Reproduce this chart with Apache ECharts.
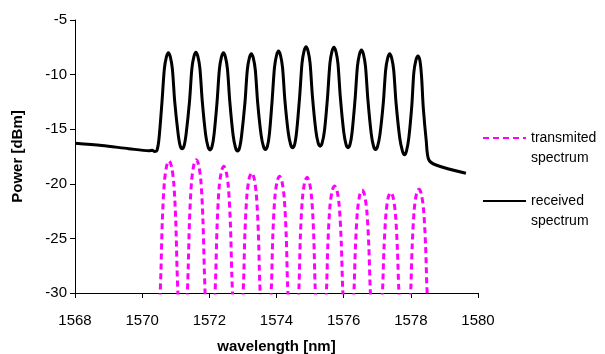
<!DOCTYPE html>
<html>
<head>
<meta charset="utf-8">
<script src="https://cdn.jsdelivr.net/npm/echarts@6/dist/echarts.min.js"></script>
<style>
html,body{margin:0;padding:0;background:#fff;}
#chart{width:605px;height:354px;}
</style>
</head>
<body>
<div id="chart"></div>
<script>
// ---- data ----
const xAxisTitle = 'wavelength [nm]';
const yAxisTitle = 'Power [dBm]';
const seriesNames = ['transmited\nspectrum', 'received\nspectrum'];

// received spectrum (black solid)
const receivedWl = [1568.00,1568.80,1569.60,1570.20,1570.30,1570.37,1570.44,1570.50,1570.59,1570.66,1570.72,1570.78,
  1570.84,1570.90,1570.97,1571.07,1571.13,1571.19,1571.25,1571.31,
  1571.41,1571.48,1571.54,1571.60,1571.66,1571.72,1571.79,1571.89,1571.96,1572.02,1572.08,1572.14,
  1572.23,1572.30,1572.36,1572.42,1572.48,1572.54,1572.61,1572.71,1572.78,1572.84,1572.90,1572.96,
  1573.06,1573.13,1573.19,1573.25,1573.31,1573.37,1573.44,1573.54,1573.61,1573.67,1573.73,1573.79,
  1573.87,1573.94,1574.00,1574.06,1574.12,1574.18,1574.25,1574.35,1574.42,1574.48,1574.54,1574.60,
  1574.69,1574.76,1574.82,1574.88,1574.94,1575.00,1575.07,1575.17,1575.24,1575.30,1575.36,1575.43,
  1575.52,1575.59,1575.65,1575.71,1575.77,1575.83,1575.90,1576.00,1576.07,1576.13,1576.19,1576.25,
  1576.34,1576.41,1576.47,1576.53,1576.59,1576.65,1576.72,1576.82,1576.89,1576.95,1577.01,1577.08,
  1577.18,1577.25,1577.31,1577.37,1577.43,1577.49,1577.56,1577.67,1577.75,1577.81,1577.87,1577.94,
  1578.03,1578.09,1578.15,1578.21,1578.27,1578.32,1578.37,1578.46,1578.53,1578.75,1579.64];
const receivedPower = [-16.29,-16.50,-16.78,-16.97,-16.92,-17.05,-16.95,-15.9,-12.5,-9.5,-8.4,-8.0,
  -8.4,-9.5,-12.5,-15.4,-16.5,-16.8,-16.5,-15.4,
  -12.45,-9.45,-8.35,-7.95,-8.35,-9.45,-12.45,-15.5,-16.6,-16.9,-16.6,-15.5,
  -12.5,-9.5,-8.4,-8.0,-8.4,-9.5,-12.5,-15.6,-16.7,-17.0,-16.7,-15.6,
  -12.6,-9.6,-8.5,-8.1,-8.5,-9.6,-12.6,-15.5,-16.56,-16.86,-16.56,-15.4,
  -12.35,-9.35,-8.25,-7.85,-8.25,-9.35,-12.35,-15.3,-16.4,-16.7,-16.4,-15.2,
  -12.0,-8.95,-7.85,-7.45,-7.85,-8.95,-12.0,-15.1,-16.26,-16.56,-16.26,-15.1,
  -12.05,-9.0,-7.9,-7.5,-7.9,-9.0,-12.05,-15.2,-16.4,-16.7,-16.4,-15.3,
  -12.25,-9.25,-8.15,-7.75,-8.15,-9.25,-12.25,-15.4,-16.56,-16.86,-16.56,-15.5,
  -12.6,-9.6,-8.5,-8.1,-8.5,-9.6,-12.6,-15.8,-17.0,-17.34,-17.0,-15.8,
  -12.8,-9.8,-8.7,-8.3,-8.7,-10.2,-13.0,-16.1,-17.76,-18.28,-19.04];

// transmitted spectrum (magenta dashed): one arch per channel
const transmittedWl = [
  [1570.52,1570.56,1570.60,1570.66,1570.73,1570.80,1570.87,1570.94,1571.00,1571.04,1571.08],
  [1571.33,1571.37,1571.41,1571.47,1571.54,1571.61,1571.68,1571.75,1571.81,1571.85,1571.89],
  [1572.15,1572.19,1572.23,1572.29,1572.36,1572.43,1572.50,1572.57,1572.63,1572.67,1572.71],
  [1572.98,1573.02,1573.06,1573.12,1573.19,1573.26,1573.33,1573.40,1573.46,1573.50,1573.54],
  [1573.81,1573.85,1573.89,1573.95,1574.02,1574.09,1574.16,1574.23,1574.29,1574.33,1574.37],
  [1574.63,1574.67,1574.71,1574.77,1574.84,1574.91,1574.98,1575.05,1575.11,1575.15,1575.19],
  [1575.45,1575.49,1575.53,1575.59,1575.66,1575.73,1575.80,1575.87,1575.93,1575.97,1576.01],
  [1576.27,1576.31,1576.35,1576.41,1576.48,1576.55,1576.62,1576.69,1576.75,1576.79,1576.83],
  [1577.12,1577.16,1577.20,1577.26,1577.33,1577.40,1577.47,1577.54,1577.60,1577.64,1577.68],
  [1577.96,1578.00,1578.04,1578.10,1578.17,1578.24,1578.31,1578.38,1578.44,1578.48,1578.52]
];
const transmittedPower = [
  [-31.5,-27.9,-23.4,-19.9,-18.35,-17.9,-18.35,-19.9,-23.4,-27.9,-31.5],
  [-31.5,-27.8,-23.3,-19.8,-18.25,-17.8,-18.25,-19.8,-23.3,-27.8,-31.5],
  [-31.5,-28.4,-23.9,-20.4,-18.85,-18.4,-18.85,-20.4,-23.9,-28.4,-31.5],
  [-31.5,-29.0,-24.5,-21.0,-19.45,-19.0,-19.45,-21.0,-24.5,-29.0,-31.5],
  [-31.5,-29.3,-24.8,-21.3,-19.75,-19.3,-19.75,-21.3,-24.8,-29.3,-31.5],
  [-31.5,-29.4,-24.9,-21.4,-19.85,-19.4,-19.85,-21.4,-24.9,-29.4,-31.5],
  [-31.5,-29.6,-25.5,-22.1,-20.6,-20.2,-20.6,-22.1,-25.5,-29.6,-31.5],
  [-31.5,-29.6,-25.8,-22.5,-21.0,-20.6,-21.0,-22.5,-25.8,-29.6,-31.5],
  [-31.5,-29.6,-26.0,-22.7,-21.2,-20.8,-21.2,-22.7,-26.0,-29.6,-31.5],
  [-31.5,-29.6,-25.7,-22.4,-20.9,-20.5,-20.9,-22.4,-25.7,-29.6,-31.5]
];

const xMin = 1568, xMax = 1580, xStep = 2;
const yMin = -30, yMax = -5, yStep = 5;

// ---- build chart ----
const FONT = "'Liberation Sans', Arial, sans-serif";
const chart = echarts.init(document.getElementById('chart'), null, {renderer: 'canvas'});

const series = [];
transmittedWl.forEach((wl, k) => {
  series.push({
    name: seriesNames[0],
    type: 'line',
    smooth: 0.3,
    symbol: 'none',
    silent: true,
    clip: true,
    lineStyle: {color: '#ff00ff', width: 3, type: [6, 4]},
    itemStyle: {color: '#ff00ff'},
    data: wl.map((x, i) => [x, transmittedPower[k][i]]),
    z: 2
  });
});
series.push({
  name: seriesNames[1],
  type: 'line',
  smooth: 0.3,
  symbol: 'none',
  silent: true,
  clip: true,
  lineStyle: {color: '#000000', width: 3},
  itemStyle: {color: '#000000'},
  data: receivedWl.map((x, i) => [x, receivedPower[i]]),
  z: 3
});

chart.setOption({
  animation: false,
  backgroundColor: '#ffffff',
  textStyle: {fontFamily: FONT},
  grid: {left: 75, right: 127, top: 20, bottom: 61, containLabel: false, outerBoundsMode: 'none'},
  legend: {
    orient: 'vertical',
    left: 482,
    top: 108,
    padding: 0,
    itemGap: 3,
    itemWidth: 43,
    itemHeight: 14,
    data: seriesNames,
    selectedMode: false,
    itemStyle: {opacity: 0},
    formatter: name => '\n' + name,
    textStyle: {fontFamily: FONT, fontSize: 14, color: '#000', lineHeight: 20}
  },
  xAxis: {
    type: 'value',
    min: xMin, max: xMax, interval: xStep,
    name: xAxisTitle,
    nameLocation: 'middle',
    nameGap: 46,
    nameTextStyle: {fontFamily: FONT, fontSize: 15, fontWeight: 'bold', color: '#000'},
    axisLine: {show: true, lineStyle: {color: '#000', width: 1}},
    axisTick: {show: true, inside: false, length: 5, lineStyle: {color: '#000'}},
    axisLabel: {fontFamily: FONT, fontSize: 15, color: '#000', margin: 20, formatter: v => String(v)},
    splitLine: {show: false}
  },
  yAxis: {
    type: 'value',
    min: yMin, max: yMax, interval: yStep,
    name: yAxisTitle,
    nameLocation: 'middle',
    nameGap: 50,
    nameRotate: 90,
    nameTextStyle: {fontFamily: FONT, fontSize: 15, fontWeight: 'bold', color: '#000'},
    axisLine: {show: true, onZero: false, lineStyle: {color: '#000', width: 1}},
    axisTick: {show: true, inside: false, length: 5, lineStyle: {color: '#000'}},
    axisLabel: {fontFamily: FONT, fontSize: 15, color: '#000', margin: 8},
    splitLine: {show: false}
  },
  series: series
});
</script>
</body>
</html>
